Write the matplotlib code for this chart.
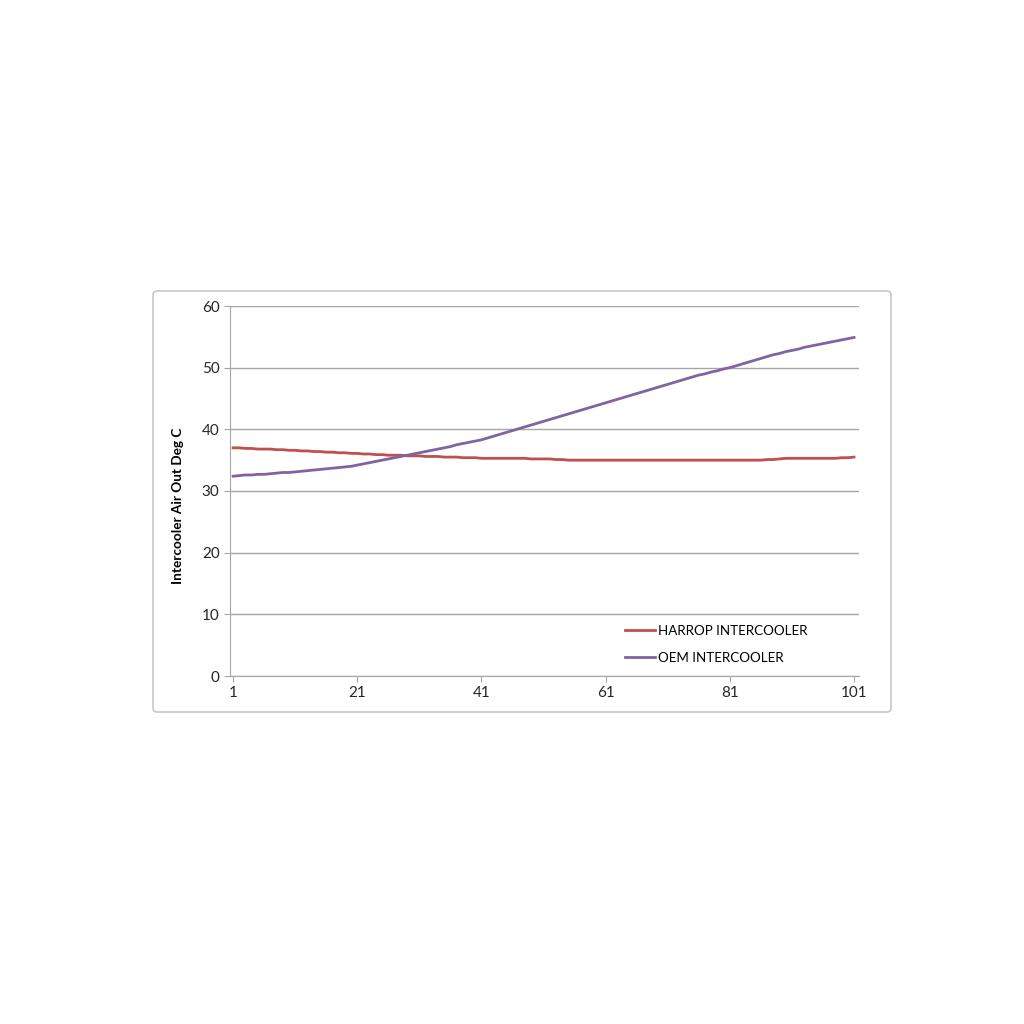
import numpy as np
import matplotlib.pyplot as plt
from matplotlib.patches import FancyBboxPatch

# Test index 1..101
runs = np.arange(1, 102)

harrop = [37.0, 37.0, 36.9, 36.9, 36.8, 36.8, 36.8, 36.7, 36.7, 36.6,
          36.6, 36.5, 36.5, 36.4, 36.4, 36.3, 36.3, 36.2, 36.2, 36.1,
          36.1, 36.0, 36.0, 35.9, 35.9, 35.8, 35.8, 35.8, 35.7, 35.7,
          35.7, 35.6, 35.6, 35.6, 35.5, 35.5, 35.5, 35.4, 35.4, 35.4,
          35.3, 35.3, 35.3, 35.3, 35.3, 35.3, 35.3, 35.3, 35.2, 35.2,
          35.2, 35.2, 35.1, 35.1, 35.0, 35.0, 35.0, 35.0, 35.0, 35.0,
          35.0, 35.0, 35.0, 35.0, 35.0, 35.0, 35.0, 35.0, 35.0, 35.0,
          35.0, 35.0, 35.0, 35.0, 35.0, 35.0, 35.0, 35.0, 35.0, 35.0,
          35.0, 35.0, 35.0, 35.0, 35.0, 35.0, 35.1, 35.1, 35.2, 35.3,
          35.3, 35.3, 35.3, 35.3, 35.3, 35.3, 35.3, 35.3, 35.4, 35.4,
          35.5]

oem = [32.4, 32.5, 32.6, 32.6, 32.7, 32.7, 32.8, 32.9, 33.0, 33.0,
       33.1, 33.2, 33.3, 33.4, 33.5, 33.6, 33.7, 33.8, 33.9, 34.0,
       34.2, 34.4, 34.6, 34.8, 35.0, 35.2, 35.4, 35.6, 35.8, 36.0,
       36.2, 36.4, 36.6, 36.8, 37.0, 37.2, 37.5, 37.7, 37.9, 38.1,
       38.3, 38.6, 38.9, 39.2, 39.5, 39.8, 40.1, 40.4, 40.7, 41.0,
       41.3, 41.6, 41.9, 42.2, 42.5, 42.8, 43.1, 43.4, 43.7, 44.0,
       44.3, 44.6, 44.9, 45.2, 45.5, 45.8, 46.1, 46.4, 46.7, 47.0,
       47.3, 47.6, 47.9, 48.2, 48.5, 48.8, 49.0, 49.3, 49.5, 49.8,
       50.0, 50.3, 50.6, 50.9, 51.2, 51.5, 51.8, 52.1, 52.3, 52.6,
       52.8, 53.0, 53.3, 53.5, 53.7, 53.9, 54.1, 54.3, 54.5, 54.7,
       54.9]

x_ticks = [1, 21, 41, 61, 81, 101]
y_ticks = [0, 10, 20, 30, 40, 50, 60]

plt.rcParams['font.family'] = ['Lato', 'DejaVu Sans']

fig = plt.figure(figsize=(10.24, 10.24), dpi=100)

# chart frame like the spreadsheet export, kept behind the axes
frame = FancyBboxPatch((153 / 1024, 1 - 712 / 1024), 738 / 1024, 421 / 1024,
                       boxstyle="round,pad=0,rounding_size=0.004",
                       transform=fig.transFigure, facecolor="white",
                       edgecolor="#c8c8c8", linewidth=1.2, zorder=-5)
fig.patches.append(frame)

ax = fig.add_axes([230 / 1024, 1 - 676 / 1024, 629 / 1024, 370 / 1024])
ax.set_facecolor("none")
ax.plot(runs, harrop, color="#C0504D", linewidth=2, label="HARROP INTERCOOLER")
ax.plot(runs, oem, color="#8064A2", linewidth=2, label="OEM INTERCOOLER")

ax.set_xlim(0.5, 101.8)
ax.set_ylim(0, 60)
ax.set_xticks(x_ticks)
ax.set_yticks(y_ticks)
ax.grid(axis="y", color="#a6a6a6", linewidth=1)
ax.set_axisbelow(True)
for s in ["top", "right"]:
    ax.spines[s].set_visible(False)
for s in ["left", "bottom"]:
    ax.spines[s].set_color("#a6a6a6")
ax.tick_params(colors="#a6a6a6", length=4, labelsize=11, labelcolor="#262626")
ax.set_ylabel("Intercooler Air Out Deg C", fontsize=9.8, fontweight="bold")
ax.yaxis.set_label_coords(-0.073, 0.46)

ax.legend(loc="upper left", bbox_to_anchor=(0.62, 0.152), frameon=False,
          fontsize=9.6, handlelength=2.2, handletextpad=0.25, labelspacing=1.1,
          borderaxespad=0)

fig.savefig("out.png", dpi=100)
